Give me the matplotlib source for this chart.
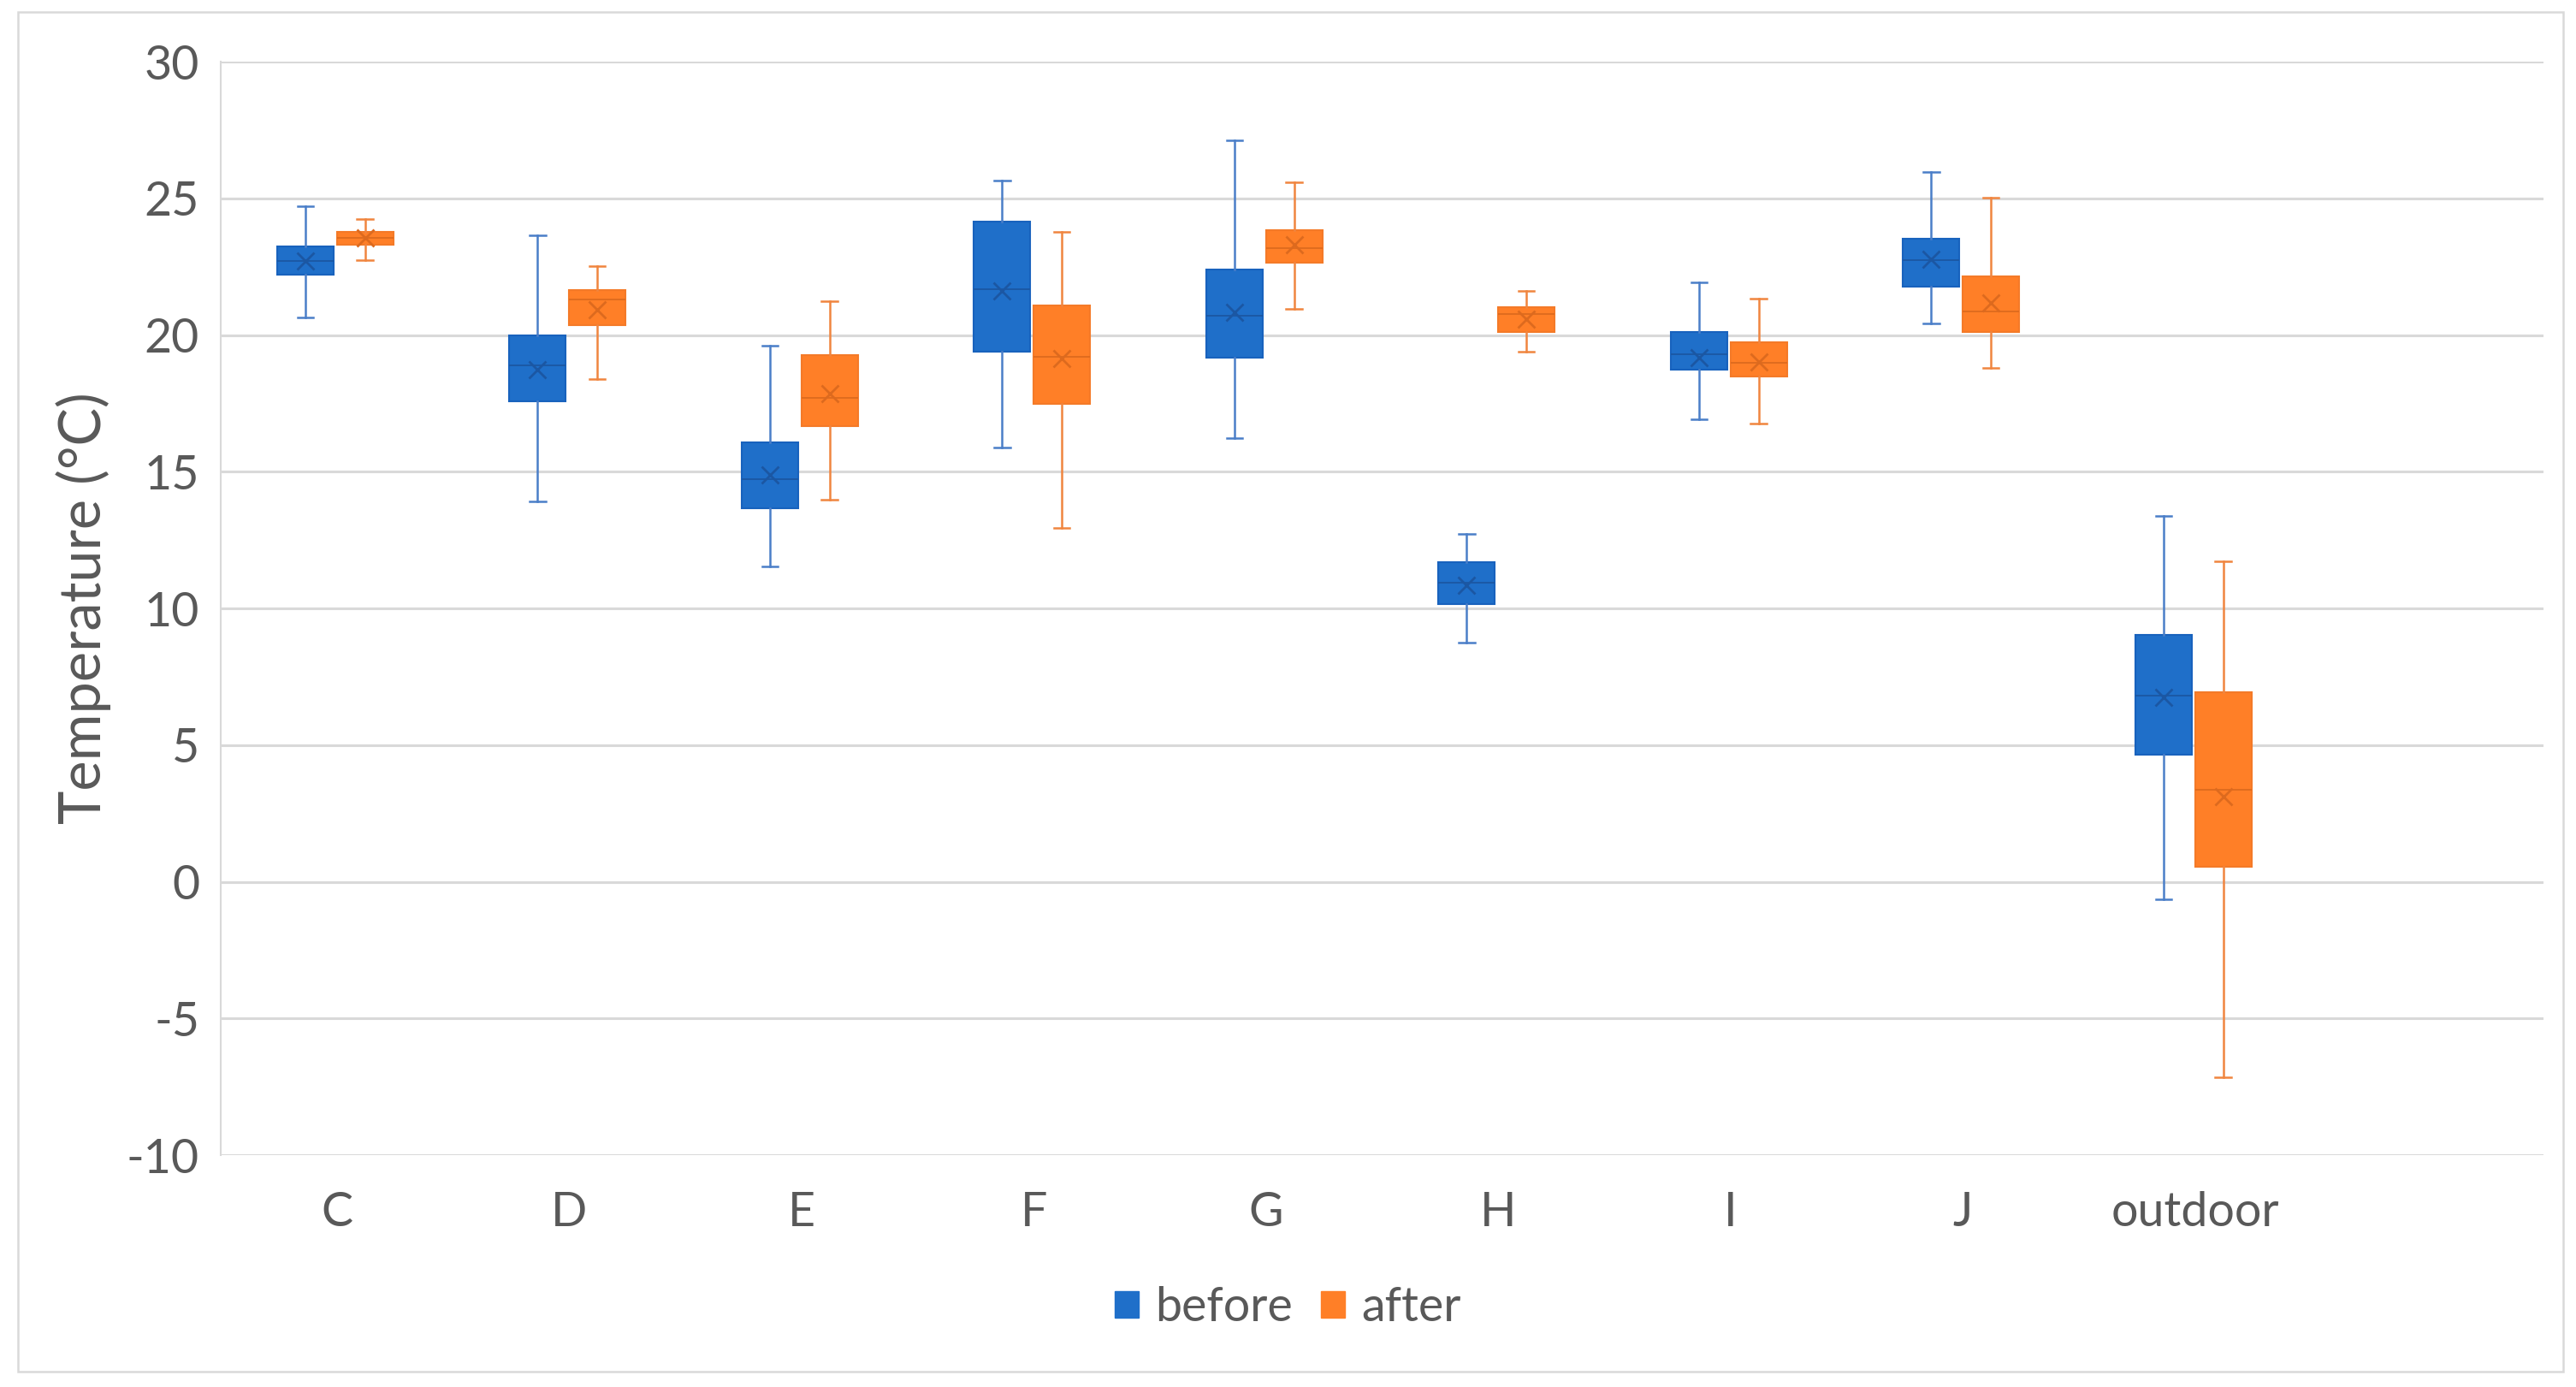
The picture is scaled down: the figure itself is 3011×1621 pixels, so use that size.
import matplotlib
matplotlib.use("Agg")
import matplotlib.pyplot as plt
from matplotlib.patches import Patch, Rectangle

plt.rcParams['font.family'] = ['Lato', 'DejaVu Sans']
plt.rcParams['axes.unicode_minus'] = False

# data (min, q1, median, q3, max, mean)
categories = ['C', 'D', 'E', 'F', 'G', 'H', 'I', 'J', 'outdoor', '']

before_lo = [20.65, 13.92, 11.52, 15.87, 16.24, 8.75, 16.93, 20.42, -0.64]
before_q1 = [22.20, 17.57, 13.66, 19.39, 19.18, 10.16, 18.74, 21.76, 4.65]
before_med = [22.70, 18.89, 14.74, 21.67, 20.70, 10.94, 19.29, 22.74, 6.81]
before_q3 = [23.24, 20.00, 16.06, 24.14, 22.41, 11.68, 20.10, 23.53, 9.04]
before_hi = [24.72, 23.64, 19.62, 25.65, 27.11, 12.73, 21.91, 25.96, 13.39]
before_mean = [22.70, 18.74, 14.88, 21.60, 20.84, 10.84, 19.18, 22.78, 6.73]

after_lo = [22.73, 18.38, 13.98, 12.95, 20.96, 19.39, 16.76, 18.80, -7.16]
after_q1 = [23.31, 20.36, 16.66, 17.48, 22.63, 20.10, 18.48, 20.11, 0.56]
after_med = [23.55, 21.31, 17.69, 19.20, 23.17, 20.76, 18.97, 20.85, 3.35]
after_q3 = [23.77, 21.65, 19.25, 21.08, 23.83, 21.02, 19.72, 22.14, 6.94]
after_hi = [24.24, 22.51, 21.23, 23.77, 25.60, 21.61, 21.33, 25.03, 11.73]
after_mean = [23.55, 20.92, 17.85, 19.13, 23.29, 20.58, 19.01, 21.16, 3.11]

blue = '#1F6FC9'
orange = '#FF7F27'
text_col = '#595959'
grid_col = '#D9D9D9'


def make_stats(lo, q1, med, q3, hi, mean):
    return [dict(whislo=a, q1=b, med=c, q3=d, whishi=e, mean=f, fliers=[])
            for a, b, c, d, e, f in zip(lo, q1, med, q3, hi, mean)]


def draw(ax, stats, pos, face, edge, whisk, dark):
    ax.bxp(stats, positions=pos, widths=0.243, patch_artist=True,
           showmeans=True, showfliers=False,
           boxprops=dict(facecolor=face, edgecolor=edge, linewidth=1.5),
           medianprops=dict(color=dark, linewidth=1.3),
           whiskerprops=dict(color=whisk, linewidth=1.8),
           capprops=dict(color=whisk, linewidth=1.8),
           capwidths=0.068,
           meanprops=dict(marker='x', markersize=15, markeredgecolor=dark,
                          markeredgewidth=2.0))


fig = plt.figure(figsize=(30.11, 16.21), dpi=100)
ax = fig.add_axes([0.08569, 0.16718, 0.90169, 0.7884])

idx = list(range(len(before_med)))
draw(ax, make_stats(before_lo, before_q1, before_med, before_q3, before_hi, before_mean),
     [i - 0.136 for i in idx], blue, '#1862BD', '#4A7EC8', '#1B57A3')
draw(ax, make_stats(after_lo, after_q1, after_med, after_q3, after_hi, after_mean),
     [i + 0.121 for i in idx], orange, '#F47A28', '#F0853F', '#DD6A1E')

ax.set_xlim(-0.5, len(categories) - 0.5)
ax.set_ylim(-10, 30)
ax.set_xticks(range(len(categories)))
ax.set_xticklabels(categories)
ax.set_yticks(range(-10, 31, 5))
ax.tick_params(axis='both', length=0, labelsize=40, colors=text_col)
ax.tick_params(axis='y', pad=18)
ax.tick_params(axis='x', pad=30)
ax.grid(axis='y', color=grid_col, linewidth=2.2)
ax.set_axisbelow(True)
for s in ['top', 'right', 'bottom']:
    ax.spines[s].set_visible(False)
ax.spines['left'].set_color(grid_col)
ax.spines['left'].set_linewidth(1.5)
ax.set_ylabel('Temperature (°C)', fontsize=48, color=text_col, labelpad=13)

handles = [Patch(facecolor=blue, edgecolor=blue, label='before'),
           Patch(facecolor=orange, edgecolor=orange, label='after')]
fig.legend(handles=handles, loc='center', bbox_to_anchor=(0.5, 0.057), ncol=2,
           frameon=False, fontsize=40, labelcolor=text_col,
           handlelength=0.5, handleheight=0.5, handletextpad=0.35,
           columnspacing=0.6)

fig.patches.append(Rectangle((0.007, 0.0111), 0.988, 0.9803, transform=fig.transFigure,
                             fill=False, edgecolor=grid_col, linewidth=1.8))

fig.savefig('out.png', dpi=100, facecolor='white')
